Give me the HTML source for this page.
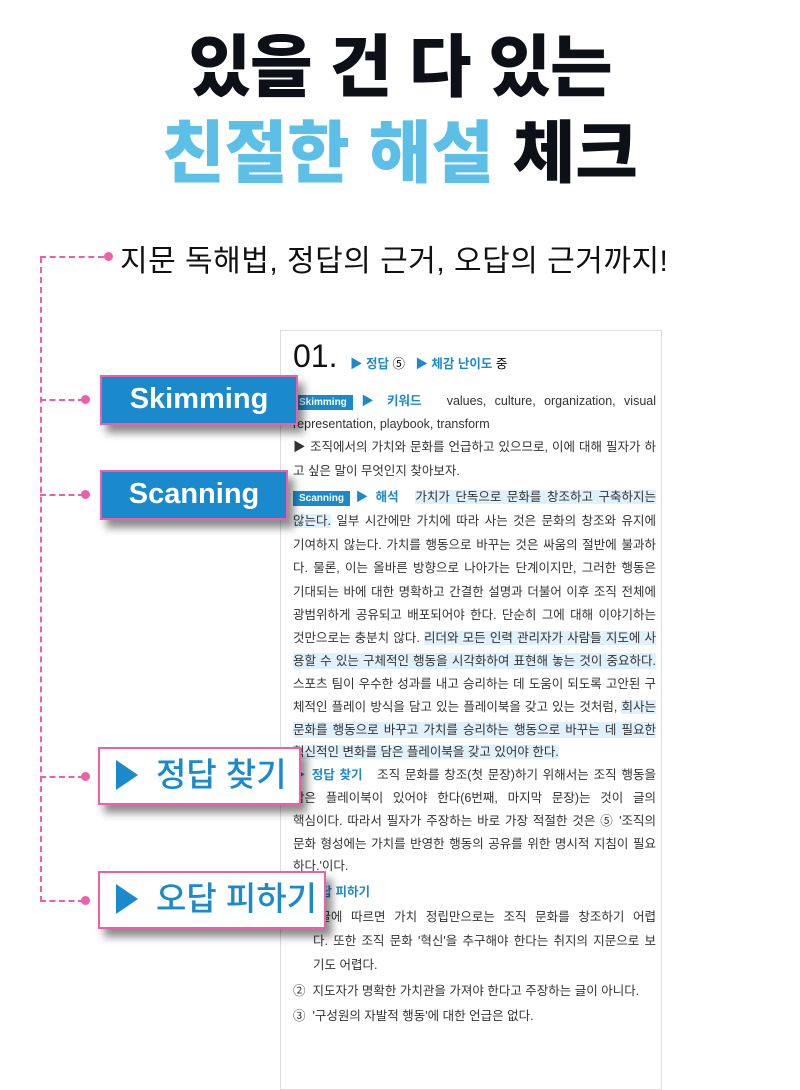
<!DOCTYPE html>
<html><head><meta charset="utf-8"><style>
*{margin:0;padding:0;box-sizing:border-box}
body{width:800px;height:1024px;overflow:hidden;background:#fff;position:relative;font-family:"Liberation Sans","Noto Sans CJK KR",sans-serif}
.t{position:absolute;left:0;width:800px;text-align:center;font-weight:900;font-size:68px;line-height:70px;letter-spacing:-1px;color:#0d1117}
.card{position:absolute;left:280px;top:330px;width:382px;height:760px;border:1px solid #ddd;background:#fff}
.ln{position:absolute;left:293px;width:363px;font-size:12.5px;line-height:16px;color:#333;text-align:justify;text-align-last:justify;white-space:nowrap}
.ln.l{text-align-last:left}
.hl{background:#e1f1fb}
.b{color:#1a8acc;font-weight:bold}
.tag{display:inline-block;background:#1a8acc;color:#fff;font-size:10px;font-weight:bold;padding:0 6px;line-height:15px}
.lab{position:absolute;left:100px;background:#1a8acc;color:#fff;border:2px solid #ef5fa7;box-shadow:6px 8px 8px rgba(0,0,0,.45);font-size:29px;font-weight:bold;text-align:center;font-family:"Liberation Sans",sans-serif}
.lab2{position:absolute;left:98px;background:#fff;color:#1a8acc;border:2px solid #ef5fa7;box-shadow:6px 8px 8px rgba(0,0,0,.45);font-size:33px;padding-left:16px;white-space:nowrap;font-weight:500}
.tri{display:inline-block;width:0;height:0;border-left:22px solid #1a8acc;border-top:15px solid transparent;border-bottom:15px solid transparent;vertical-align:-4px;margin-right:18px}
.dot{position:absolute;width:9px;height:9px;border-radius:50%;background:#ef5fa7}
.dh{position:absolute;left:40px;height:0;border-top:2px dashed #ef5fa7}
</style></head><body>
<div class="t" style="top:33px">있을 건 다 있는</div>
<div class="t" style="top:119px;letter-spacing:0"><span style="color:#5bbfe8">친절한 해설</span> 체크</div>

<div style="position:absolute;left:40px;top:257px;height:645px;border-left:2px dashed #ef5fa7"></div>
<div class="dh" style="top:256px;width:64px"></div><div class="dot" style="left:104px;top:252px"></div>
<div style="position:absolute;left:120px;top:236px;font-size:30px;letter-spacing:0.5px;color:#111;white-space:nowrap">지문 독해법, 정답의 근거, 오답의 근거까지!</div>

<div class="card"></div>
<div style="position:absolute;left:293px;top:338px;font-size:32px;color:#111">01.</div>
<div style="position:absolute;left:350px;top:353px;font-size:12.5px" ><span class="b">▶ 정답</span> ⑤ &nbsp;&nbsp;<span class="b">▶ 체감 난이도</span> 중</div>

<div class="ln" style="top:393px"><span class="tag">Skimming</span> <span class="b">▶ 키워드</span> &nbsp; values, culture, organization, visual</div>
<div class="ln l" style="top:416px">representation, playbook, transform</div>
<div class="ln" style="top:439px">▶ 조직에서의 가치와 문화를 언급하고 있으므로, 이에 대해 필자가 하</div>
<div class="ln l" style="top:463px">고 싶은 말이 무엇인지 찾아보자.</div>
<div class="ln" style="top:489px"><span class="tag">Scanning</span> <span class="b">▶ 해석</span> &nbsp; <span class="hl">가치가 단독으로 문화를 창조하고 구축하지는</span></div>
<div class="ln" style="top:513px"><span class="hl">않는다.</span> 일부 시간에만 가치에 따라 사는 것은 문화의 창조와 유지에</div>
<div class="ln" style="top:537px">기여하지 않는다. 가치를 행동으로 바꾸는 것은 싸움의 절반에 불과하</div>
<div class="ln" style="top:560px">다. 물론, 이는 올바른 방향으로 나아가는 단계이지만, 그러한 행동은</div>
<div class="ln" style="top:584px">기대되는 바에 대한 명확하고 간결한 설명과 더불어 이후 조직 전체에</div>
<div class="ln" style="top:607px">광범위하게 공유되고 배포되어야 한다. 단순히 그에 대해 이야기하는</div>
<div class="ln" style="top:630px">것만으로는 충분치 않다. <span class="hl">리더와 모든 인력 관리자가 사람들 지도에 사</span></div>
<div class="ln hl" style="top:653px">용할 수 있는 구체적인 행동을 시각화하여 표현해 놓는 것이 중요하다.</div>
<div class="ln" style="top:676px">스포츠 팀이 우수한 성과를 내고 승리하는 데 도움이 되도록 고안된 구</div>
<div class="ln" style="top:699px">체적인 플레이 방식을 담고 있는 플레이북을 갖고 있는 것처럼, <span class="hl">회사는</span></div>
<div class="ln hl" style="top:722px">문화를 행동으로 바꾸고 가치를 승리하는 행동으로 바꾸는 데 필요한</div>
<div class="ln l" style="top:744px"><span class="hl">혁신적인 변화를 담은 플레이북을 갖고 있어야 한다.</span></div>
<div class="ln" style="top:767px"><span class="b">▶ 정답 찾기</span> &nbsp; 조직 문화를 창조(첫 문장)하기 위해서는 조직 행동을</div>
<div class="ln" style="top:790px">담은 플레이북이 있어야 한다(6번째, 마지막 문장)는 것이 글의</div>
<div class="ln" style="top:813px">핵심이다. 따라서 필자가 주장하는 바로 가장 적절한 것은 ⑤ '조직의</div>
<div class="ln" style="top:836px">문화 형성에는 가치를 반영한 행동의 공유를 위한 명시적 지침이 필요</div>
<div class="ln l" style="top:858px">하다.'이다.</div>
<div class="ln l" style="top:884px"><span class="b">▶ 오답 피하기</span></div>
<div class="ln" style="top:909px">① 글에 따르면 가치 정립만으로는 조직 문화를 창조하기 어렵</div>
<div class="ln" style="top:933px;left:313px;width:343px">다. 또한 조직 문화 '혁신'을 추구해야 한다는 취지의 지문으로 보</div>
<div class="ln l" style="top:957px;left:313px">기도 어렵다.</div>
<div class="ln l" style="top:983px">② &nbsp;지도자가 명확한 가치관을 가져야 한다고 주장하는 글이 아니다.</div>
<div class="ln l" style="top:1008px">③ &nbsp;'구성원의 자발적 행동'에 대한 언급은 없다.</div>

<div class="dh" style="top:399px;width:44px"></div><div class="dot" style="left:81px;top:395px"></div>
<div class="lab" style="top:375px;width:198px;height:50px;line-height:44px">Skimming</div>
<div class="dh" style="top:494px;width:44px"></div><div class="dot" style="left:81px;top:490px"></div>
<div class="lab" style="top:470px;width:188px;height:50px;line-height:44px">Scanning</div>
<div class="dh" style="top:776px;width:44px"></div><div class="dot" style="left:81px;top:772px"></div>
<div class="lab2" style="top:747px;width:203px;height:58px;line-height:52px"><span class="tri"></span>정답 찾기</div>
<div class="dh" style="top:900px;width:44px"></div><div class="dot" style="left:81px;top:896px"></div>
<div class="lab2" style="top:871px;width:228px;height:58px;line-height:52px"><span class="tri"></span>오답 피하기</div>
</body></html>
